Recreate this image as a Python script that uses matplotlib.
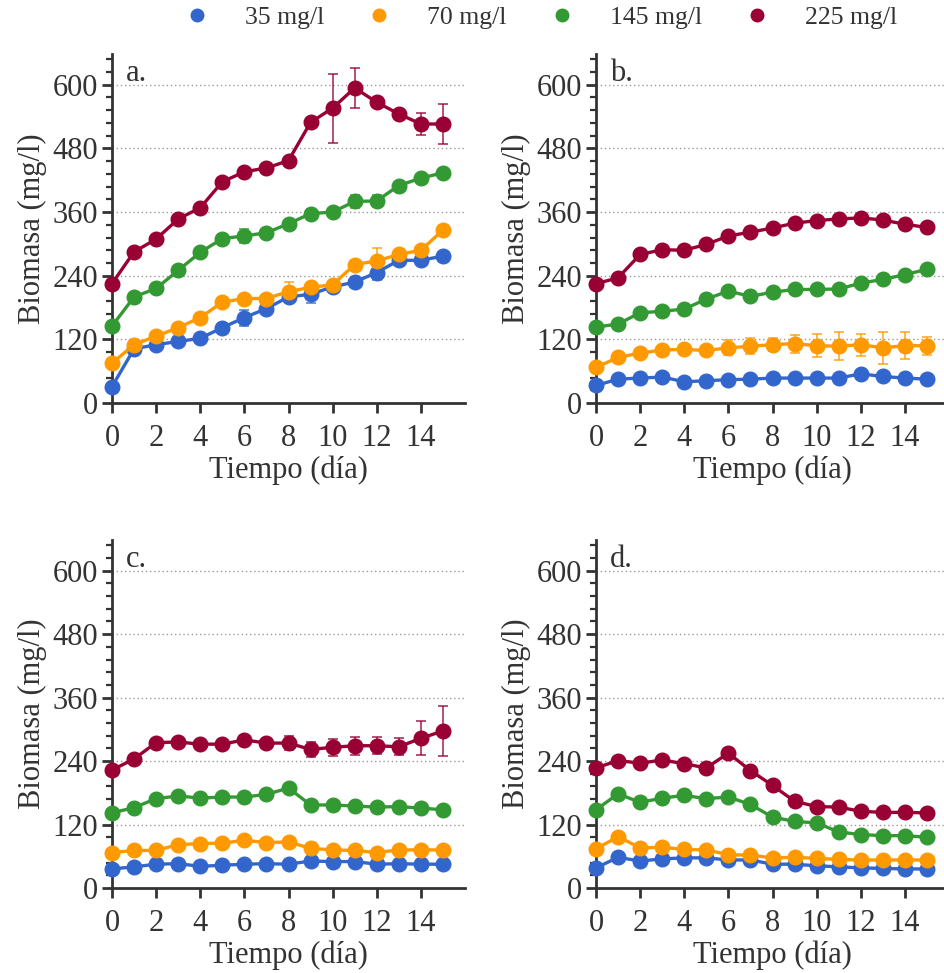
import numpy as np
import matplotlib
matplotlib.use("Agg")
import matplotlib.pyplot as plt
from matplotlib.ticker import MultipleLocator
from matplotlib.lines import Line2D

plt.rcParams['font.family'] = ['Liberation Serif', 'DejaVu Serif']

dias = np.arange(16)
series = ['35 mg/l', '70 mg/l', '145 mg/l', '225 mg/l']
colores = ['#3366cc', '#ff9900', '#339933', '#990033']
paneles = ['a.', 'b.', 'c.', 'd.']

# panel a
a_35 = [31, 102, 110, 116, 122, 142, 161, 178, 200, 205, 219, 228, 246, 269, 269, 277]
a_70 = [75, 110, 126, 142, 161, 190, 197, 197, 210, 218, 223, 261, 268, 280, 288, 326]
a_145 = [145, 200, 216, 250, 284, 310, 315, 321, 338, 357, 360, 380, 381, 410, 424, 434]
a_225 = [225, 285, 309, 347, 368, 417, 436, 443, 457, 529, 556, 594, 567, 545, 526, 526]
a_35_err = [0, 0, 0, 0, 0, 0, 15, 5, 5, 16, 0, 0, 15, 0, 0, 8]
a_70_err = [0, 0, 0, 0, 0, 0, 0, 0, 18, 0, 0, 0, 24, 0, 0, 0]
a_145_err = [0, 0, 0, 0, 0, 0, 14, 0, 0, 8, 0, 12, 12, 0, 0, 0]
a_225_err = [0, 0, 0, 0, 0, 0, 0, 0, 0, 0, 65, 38, 0, 0, 21, 37]

# panel b
b_35 = [33, 45, 47, 49, 40, 42, 44, 45, 47, 47, 47, 47, 55, 50, 47, 45]
b_70 = [67, 86, 94, 100, 101, 99, 104, 107, 110, 112, 108, 107, 110, 104, 108, 108]
b_145 = [143, 149, 170, 173, 177, 196, 211, 201, 209, 214, 214, 215, 226, 233, 242, 252]
b_225 = [225, 236, 280, 289, 288, 299, 315, 322, 330, 339, 344, 347, 349, 345, 337, 331]
b_35_err = [0] * 16
b_70_err = [0, 0, 0, 0, 0, 4, 14, 15, 12, 17, 22, 26, 21, 30, 25, 17]
b_145_err = [0] * 16
b_225_err = [0] * 16

# panel c
c_35 = [36, 40, 45, 46, 41, 43, 45, 46, 45, 51, 50, 50, 45, 46, 45, 45]
c_70 = [67, 71, 71, 82, 84, 85, 90, 86, 87, 75, 72, 71, 67, 72, 72, 72]
c_145 = [142, 152, 169, 174, 170, 172, 172, 177, 189, 157, 157, 155, 153, 154, 151, 148]
c_225 = [223, 244, 275, 276, 272, 272, 280, 274, 274, 262, 266, 269, 269, 267, 283, 297]
c_35_err = [0] * 16
c_70_err = [0] * 16
c_145_err = [0] * 16
c_225_err = [0, 0, 0, 0, 0, 0, 0, 5, 14, 14, 16, 17, 16, 16, 32, 48]

# panel d
d_35 = [38, 58, 51, 55, 57, 57, 53, 53, 45, 45, 42, 40, 38, 37, 36, 36]
d_70 = [74, 97, 76, 77, 73, 72, 63, 62, 57, 58, 56, 54, 53, 53, 53, 53]
d_145 = [148, 178, 162, 170, 175, 169, 172, 158, 134, 126, 123, 106, 101, 99, 99, 96]
d_225 = [227, 241, 236, 242, 235, 227, 255, 222, 194, 164, 154, 153, 145, 143, 143, 142]
d_35_err = [0] * 16
d_70_err = [0] * 16
d_145_err = [0] * 16
d_225_err = [0] * 16

datos = [
    ([a_35, a_70, a_145, a_225], [a_35_err, a_70_err, a_145_err, a_225_err]),
    ([b_35, b_70, b_145, b_225], [b_35_err, b_70_err, b_145_err, b_225_err]),
    ([c_35, c_70, c_145, c_225], [c_35_err, c_70_err, c_145_err, c_225_err]),
    ([d_35, d_70, d_145, d_225], [d_35_err, d_70_err, d_145_err, d_225_err]),
]

W, H = 944, 973
fig = plt.figure(figsize=(W / 100, H / 100), dpi=100)

# axes boxes in pixels: left, top, right, bottom
cajas = [(112, 54, 465, 403), (596, 54, 949, 403),
         (112, 540, 465, 888), (596, 540, 949, 888)]

gris = '#333333'
for i, (l, t, r, b) in enumerate(cajas):
    ax = fig.add_axes([l / W, 1 - b / H, (r - l) / W, (b - t) / H])
    vals, errs = datos[i]
    for v, e, c in zip(vals, errs, colores):
        e = np.array(e)
        mask = e > 0
        if mask.any():
            ax.errorbar(dias[mask], np.array(v)[mask], yerr=e[mask], fmt='none',
                        ecolor=c, alpha=0.75, elinewidth=1.3, capsize=3.5,
                        capthick=1.3, zorder=2)
        ax.plot(dias, v, color=c, lw=2.4, marker='o', ms=10.5, clip_on=False, zorder=3)
    ax.set_xlim(0, 16)
    ax.set_ylim(0, 658)
    ax.set_xticks(np.arange(0, 15, 2))
    ax.set_yticks(np.arange(0, 601, 120))
    ax.yaxis.set_minor_locator(MultipleLocator(24))
    ax.yaxis.grid(True, which='major', linestyle=(0, (1, 2)), color='#999999', lw=1)
    ax.set_axisbelow(True)
    for s in ['top', 'right']:
        ax.spines[s].set_visible(False)
    for s in ['left', 'bottom']:
        ax.spines[s].set_color(gris)
        ax.spines[s].set_linewidth(2)
    ax.tick_params(axis='both', which='major', labelsize=22, colors=gris,
                   length=7, width=2, labelcolor='#333333', pad=3)
    ax.tick_params(axis='x', which='major', pad=8)
    ax.tick_params(axis='y', which='minor', length=4, width=1.6, colors=gris)
    ax.set_xlabel('Tiempo (día)', fontsize=22, color='#333333', labelpad=2)
    ax.set_ylabel('Biomasa (mg/l)', fontsize=22, color='#333333', labelpad=4)
    ax.text(0.04, 0.985, paneles[i], transform=ax.transAxes, fontsize=22,
            color='#333333', va='top', ha='left')

handles = [Line2D([], [], ls='none', marker='o', ms=9, color=c) for c in colores]
fig.legend(handles, series, loc='center left', bbox_to_anchor=(171 / W, 1 - 18 / H),
           ncol=4, frameon=False, fontsize=18.5, handlelength=2.0,
           handletextpad=0.87, columnspacing=1.15, borderpad=0, borderaxespad=0,
           labelcolor='#333333')

fig.savefig('out.png', dpi=100)
